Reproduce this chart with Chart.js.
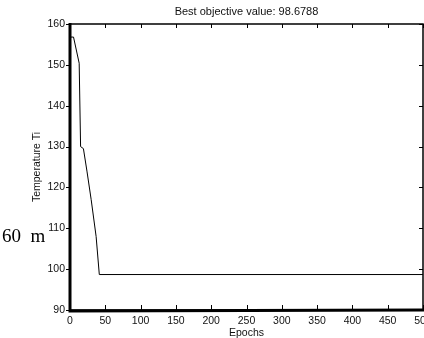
<!DOCTYPE html>
<html>
<head>
<meta charset="utf-8">
<script src="https://cdn.jsdelivr.net/npm/chart.js@4"></script>
<style>
  html, body { margin: 0; padding: 0; background: #fff; }
  #wrap { position: relative; width: 424px; height: 338px; overflow: hidden; }
  #side { position: absolute; left: 2px; top: 225px; font: 19px "Liberation Serif", serif; color: #000; white-space: pre; }
</style>
</head>
<body>
<div id="wrap">
  <canvas id="myChart" width="424" height="338"></canvas>
  <div id="side">60  m</div>
</div>
<script>
// values
const epochs = [0, 5, 13, 15, 19, 24, 30, 37, 41.5, 500];
const temps = [156.8, 156.8, 150.4, 130, 129.5, 124, 117, 108, 98.68, 98.68];
const xTicks = [0, 50, 100, 150, 200, 250, 300, 350, 400, 450, 500];
const yTicks = [90, 100, 110, 120, 130, 140, 150, 160];

const font = { family: 'Liberation Sans, Arial, sans-serif', size: 10.5 };

// frame, inward ticks and titles like the original figure
const frame = {
    id: 'frame',
    afterDraw(chart) {
        const c = chart.ctx;
        const a = chart.chartArea;
        const xs = chart.scales.x, ys = chart.scales.y;
        c.save();
        c.strokeStyle = '#000';
        c.lineWidth = 1;
        c.beginPath();
        xTicks.forEach(v => {
            const px = Math.round(xs.getPixelForValue(v)) + 0.5;
            c.moveTo(px, a.bottom); c.lineTo(px, a.bottom - 5);
            c.moveTo(px, a.top); c.lineTo(px, a.top + 4);
        });
        yTicks.forEach(v => {
            const py = Math.round(ys.getPixelForValue(v)) + 0.5;
            c.moveTo(a.left - 4, py); c.lineTo(a.left, py);
            c.moveTo(a.right, py); c.lineTo(a.right - 4, py);
        });
        c.stroke();
        c.lineWidth = 1.5;
        c.strokeRect(a.left, a.top, a.right - a.left, a.bottom - a.top);
        c.lineWidth = 3;
        c.beginPath();
        c.moveTo(a.left, a.top - 1); c.lineTo(a.left, a.bottom + 1);
        c.lineTo(a.right + 1, a.bottom);
        c.stroke();

        c.fillStyle = '#111';
        c.textAlign = 'center';
        c.textBaseline = 'middle';
        const cx = (a.left + a.right) / 2;
        c.font = '11px Liberation Sans, Arial, sans-serif';
        c.fillText('Best objective value: 98.6788', cx, 12);
        c.font = '10.5px Liberation Sans, Arial, sans-serif';
        c.fillText('Epochs', cx, 333);
        c.translate(37, (a.top + a.bottom) / 2);
        c.rotate(-Math.PI / 2);
        c.fillText('Temperature Ti', 0, 0);
        c.restore();
    }
};

new Chart(document.getElementById('myChart'), {
    type: 'scatter',
    data: {
        datasets: [{
            data: epochs.map((e, i) => ({ x: e, y: temps[i] })),
            showLine: true,
            borderColor: '#000',
            borderWidth: 1,
            pointRadius: 0,
            tension: 0
        }]
    },
    options: {
        responsive: false,
        animation: false,
        layout: { padding: { top: 24, right: 1, left: 0, bottom: 0 } },
        plugins: { legend: { display: false }, tooltip: { enabled: false } },
        scales: {
            x: {
                type: 'linear',
                min: 0, max: 500,
                afterBuildTicks: s => { s.ticks = xTicks.map(v => ({ value: v })); },
                afterFit: s => { s.height = 28; s.paddingLeft = 0; s.paddingRight = 0; },
                grid: { display: false, drawTicks: false },
                border: { display: false },
                ticks: { font: font, color: '#111', padding: 5, maxRotation: 0, autoSkip: false }
            },
            y: {
                min: 90, max: 160,
                afterBuildTicks: s => { s.ticks = yTicks.map(v => ({ value: v })); },
                afterFit: s => { s.width = 70; s.paddingTop = 0; s.paddingBottom = 0; },
                grid: { display: false, drawTicks: false },
                border: { display: false },
                ticks: { font: font, color: '#111', padding: 5 }
            }
        }
    },
    plugins: [frame]
});
</script>
</body>
</html>
